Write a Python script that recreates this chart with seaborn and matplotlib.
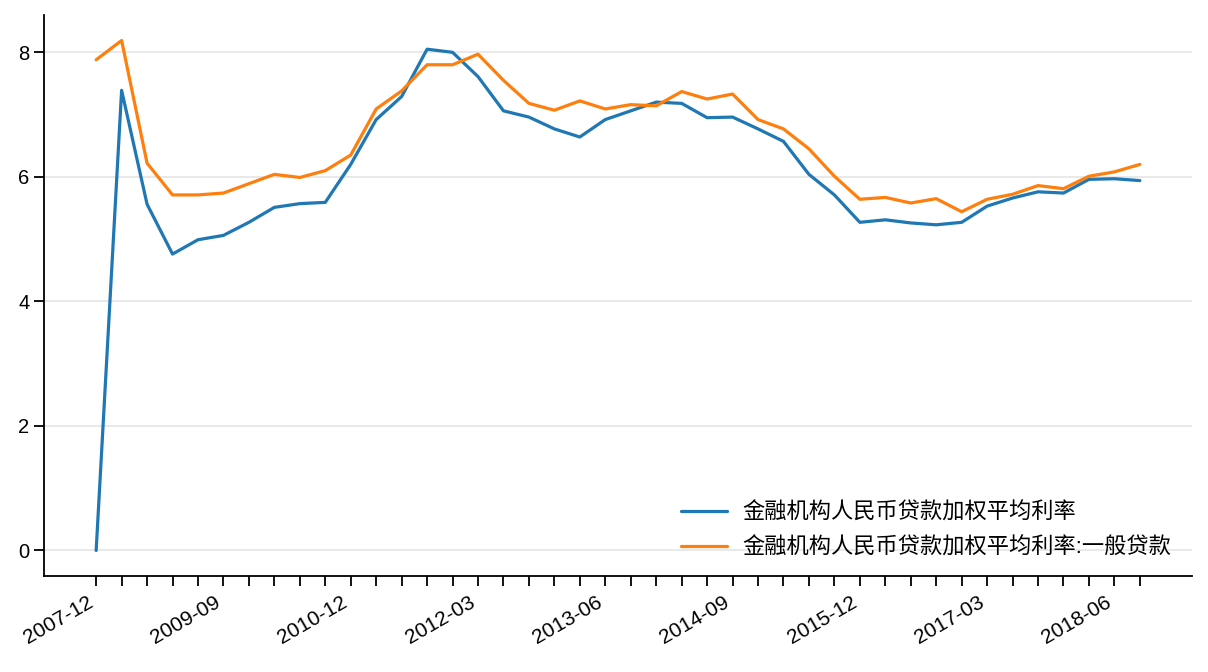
import matplotlib
matplotlib.use("Agg")
import matplotlib.pyplot as plt
import seaborn as sns
import pandas as pd

dates = ["2007-12", "2008-09", "2008-12", "2009-03", "2009-06", "2009-09",
         "2009-12", "2010-03", "2010-06", "2010-09", "2010-12",
         "2011-03", "2011-06", "2011-09", "2011-12",
         "2012-03", "2012-06", "2012-09", "2012-12",
         "2013-03", "2013-06", "2013-09", "2013-12",
         "2014-03", "2014-06", "2014-09", "2014-12",
         "2015-03", "2015-06", "2015-09", "2015-12",
         "2016-03", "2016-06", "2016-09", "2016-12",
         "2017-03", "2017-06", "2017-09", "2017-12",
         "2018-03", "2018-06", "2018-09"]

rate_all = [0.00, 7.39, 5.56, 4.76, 4.99, 5.06, 5.27, 5.51, 5.57, 5.59, 6.20,
            6.92, 7.29, 8.05, 8.00, 7.61, 7.06, 6.96, 6.77, 6.64, 6.92,
            7.06, 7.20, 7.18, 6.95, 6.96, 6.77, 6.57, 6.04, 5.71, 5.27,
            5.31, 5.26, 5.23, 5.27, 5.53, 5.66, 5.76, 5.74, 5.96, 5.97, 5.94]

rate_general = [7.88, 8.19, 6.22, 5.71, 5.71, 5.74, 5.89, 6.04, 5.99, 6.10, 6.35,
                7.09, 7.38, 7.80, 7.80, 7.97, 7.55, 7.18, 7.07, 7.22, 7.09,
                7.16, 7.14, 7.37, 7.25, 7.33, 6.92, 6.77, 6.45, 6.01, 5.64,
                5.67, 5.58, 5.65, 5.44, 5.64, 5.72, 5.86, 5.81, 6.01, 6.08, 6.20]

name_all = "金融机构人民币贷款加权平均利率"
name_general = "金融机构人民币贷款加权平均利率:一般贷款"

sns.set_theme(style="ticks")
plt.rcParams["font.family"] = ["Liberation Sans", "Noto Sans CJK SC", "DejaVu Sans"]

df = pd.DataFrame({"idx": list(range(len(dates))),
                   name_all: rate_all,
                   name_general: rate_general})
long = df.melt(id_vars="idx", var_name="series", value_name="value")

fig, ax = plt.subplots(figsize=(12.08, 6.72), dpi=100)
fig.subplots_adjust(left=0.0364, right=0.9868, top=0.9777, bottom=0.1429)

sns.lineplot(data=long, x="idx", y="value", hue="series",
             palette=["#1f77b4", "#ff7f0e"], linewidth=2.3, ax=ax)

ax.margins(x=0.05, y=0.05)
ax.set_xticks(list(range(len(dates))))
ax.set_xticklabels([d if i % 5 == 0 else "" for i, d in enumerate(dates)],
                   rotation=30, ha="right", fontsize=15, color="black")
ax.set_yticks([0, 2, 4, 6, 8])
ax.tick_params(axis="y", labelsize=14.5, length=7, width=1.3,
               color="black", labelcolor="black")
ax.tick_params(axis="x", length=7, width=1.3, color="black", pad=5)
ax.set_xlabel("")
ax.set_ylabel("")
ax.yaxis.grid(True, color="#e5e5e5", linewidth=1.2)
ax.set_axisbelow(True)
for s in ["left", "bottom"]:
    ax.spines[s].set_linewidth(1.3)
    ax.spines[s].set_color("black")
sns.despine(ax=ax)

leg = ax.legend(loc="lower right", frameon=False, fontsize=16, handlelength=2.1,
                handletextpad=0.7, labelspacing=0.6, title=None,
                borderaxespad=0, bbox_to_anchor=(0.99, 0.015))
for t in leg.get_texts():
    t.set_color("black")

fig.savefig("out.png", dpi=100)
